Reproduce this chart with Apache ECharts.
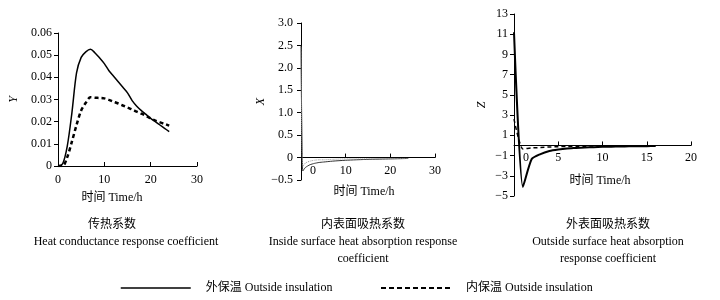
<!DOCTYPE html>
<html>
<head>
<meta charset="utf-8">
<script src="https://cdn.jsdelivr.net/npm/echarts@6/dist/echarts.min.js"></script>
<style>
  html, body { margin: 0; padding: 0; background: #fff; }
  #main { width: 720px; height: 300px; }
</style>
</head>
<body>
<div id="main"></div>
<script>
// 传热系数 Y
var hoursY = [0, 1, 2, 3, 4, 5, 6, 7, 8, 9, 10, 11, 12, 13, 14, 15, 16, 17, 18, 19, 20, 21, 22, 23, 24];
var yOutside = [0, 0.001, 0.009, 0.024, 0.042, 0.049, 0.0515, 0.0527, 0.051, 0.0487, 0.0462, 0.043, 0.0405, 0.038, 0.0355, 0.033, 0.0295, 0.027, 0.025, 0.0233, 0.0215, 0.02, 0.0185, 0.017, 0.0155];
var yInside = [0, 0, 0.004, 0.011, 0.0185, 0.025, 0.0285, 0.031, 0.0308, 0.0307, 0.0305, 0.0298, 0.029, 0.0282, 0.0273, 0.0264, 0.0255, 0.0245, 0.0236, 0.0226, 0.0215, 0.0205, 0.0197, 0.019, 0.0182];

// 内表面吸热系数 X
var hoursX = [0, 0.4, 1, 2, 3, 4, 5, 7, 10, 15, 20, 24];
var xOutside = [2.5, -0.3, -0.22, -0.16, -0.13, -0.11, -0.1, -0.08, -0.06, -0.04, -0.03, -0.02];
var xInside = [2.45, -0.2, -0.12, -0.08, -0.06, -0.05, -0.05, -0.04, -0.03, -0.03, -0.02, -0.02];

// 外表面吸热系数 Z
var hoursZ = [0, 1, 2, 3, 4, 5, 6, 7, 8, 9, 10, 11, 12, 13, 14, 15, 16];
var zOutside = [11.2, -4.1, -1.35, -0.85, -0.55, -0.4, -0.3, -0.25, -0.2, -0.17, -0.14, -0.12, -0.1, -0.09, -0.08, -0.07, -0.06];
var zInside = [2.6, -0.35, -0.25, -0.2, -0.15, -0.12, -0.1, -0.08, -0.07, -0.06, -0.05, -0.04, -0.04, -0.03, -0.03, -0.03, -0.02];
var zTicks = [-5, -3, -1, 1, 3, 5, 7, 9, 11, 13];

var nameOut = '外保温 Outside insulation';
var nameIn = '内保温 Outside insulation';

var FONT = '"Liberation Serif", "Times New Roman", "Noto Sans CJK SC", serif';

function pairs(xs, ys) {
    var out = [];
    for (var i = 0; i < xs.length; i++) out.push([xs[i], ys[i]]);
    return out;
}
function minus(v) {
    return v < 0 ? '\u2212' + (-v) : '' + v;
}

var axLine = { onZero: false, lineStyle: { color: '#000', width: 1 } };

// offset moves the x axis up to the y=0 line of its grid
function xAx(grid, max, interval, margin, shiftZero, offset) {
    return {
        type: 'value', gridIndex: grid, min: 0, max: max, interval: interval,
        offset: offset,
        axisLine: axLine,
        axisTick: { inside: true, length: 4, lineStyle: { color: '#000' } },
        splitLine: { show: false },
        axisLabel: {
            color: '#000', fontFamily: FONT, fontSize: 12, margin: margin,
            formatter: function (v) {
                if (shiftZero && v === 0) return '{s|0}';
                return '' + v;
            },
            rich: { s: { padding: [0, 0, 0, 24], fontFamily: FONT, fontSize: 12, color: '#000' } }
        }
    };
}

function caption(text, x, y) {
    return {
        type: 'text',
        style: { text: text, x: x, y: y, textAlign: 'center', textVerticalAlign: 'middle',
                 font: '12px ' + FONT, fill: '#000' }
    };
}

var option = {
    animation: false,
    backgroundColor: '#fff',
    grid: [
        { left: 58, top: 33, width: 139, height: 133 },
        { left: 301, top: 23, width: 134, height: 157 },
        { left: 514, top: 14, width: 177, height: 182 }
    ],
    xAxis: [
        xAx(0, 30, 10, 8, false, 0),
        xAx(1, 30, 10, 7, true, -157 / 7),
        xAx(2, 20, 5, 6, true, -182 * 5 / 18)
    ],
    yAxis: [
        {
            type: 'value', gridIndex: 0, min: 0, max: 0.06, interval: 0.01,
            name: 'Y', nameLocation: 'middle', nameGap: 38, nameRotate: 90,
            nameTextStyle: { color: '#000', fontFamily: FONT, fontSize: 12, fontStyle: 'italic' },
            axisLine: axLine, axisTick: { length: 4, lineStyle: { color: '#000' } },
            splitLine: { show: false },
            axisLabel: { color: '#000', fontFamily: FONT, fontSize: 12, margin: 6,
                formatter: function (v) { return v === 0 ? '0' : v.toFixed(2); } }
        },
        {
            type: 'value', gridIndex: 1, min: -0.5, max: 3, interval: 0.5,
            name: 'X', nameLocation: 'middle', nameGap: 34, nameRotate: 90,
            nameTextStyle: { color: '#000', fontFamily: FONT, fontSize: 12, fontStyle: 'italic' },
            axisLine: axLine, axisTick: { length: 4, lineStyle: { color: '#000' } },
            splitLine: { show: false },
            axisLabel: { color: '#000', fontFamily: FONT, fontSize: 12, margin: 8,
                formatter: function (v) {
                    if (v === 0) return '0';
                    return v < 0 ? '\u2212' + (-v).toFixed(1) : v.toFixed(1);
                } }
        },
        {
            type: 'value', gridIndex: 2, min: -5, max: 13,
            name: 'Z', nameLocation: 'middle', nameGap: 26, nameRotate: 90,
            nameTextStyle: { color: '#000', fontFamily: FONT, fontSize: 12, fontStyle: 'italic' },
            axisLine: axLine,
            axisTick: { length: 4, lineStyle: { color: '#000' }, customValues: zTicks },
            splitLine: { show: false },
            axisLabel: { color: '#000', fontFamily: FONT, fontSize: 12, margin: 6,
                customValues: zTicks, formatter: minus }
        }
    ],
    legend: [
        {
            left: 120, top: 282, padding: 0, itemWidth: 70, itemHeight: 14, itemGap: 0,
            data: [nameOut],
            itemStyle: { opacity: 0 },
            lineStyle: { color: '#000', width: 1.5 },
            textStyle: { color: '#000', fontFamily: FONT, fontSize: 12, padding: [0, 0, 0, 10] },
            selectedMode: false
        },
        {
            left: 380, top: 282, padding: 0, itemWidth: 70, itemHeight: 14, itemGap: 0,
            data: [nameIn],
            itemStyle: { opacity: 0 },
            lineStyle: { color: '#000', type: [5, 3], width: 2 },
            textStyle: { color: '#000', fontFamily: FONT, fontSize: 12, padding: [0, 0, 0, 10] },
            selectedMode: false
        }
    ],
    graphic: [
        caption('时间 Time/h', 112, 198),
        caption('传热系数', 112, 225),
        caption('Heat conductance response coefficient', 126, 242),
        caption('时间 Time/h', 364, 192),
        caption('内表面吸热系数', 363, 225),
        caption('Inside surface heat absorption response', 363, 242),
        caption('coefficient', 363, 259),
        caption('时间 Time/h', 600, 181),
        caption('外表面吸热系数', 608, 225),
        caption('Outside surface heat absorption', 608, 242),
        caption('response coefficient', 608, 259)
    ],
    series: [
        {
            name: nameOut, type: 'line', xAxisIndex: 0, yAxisIndex: 0,
            data: pairs(hoursY, yOutside), smooth: 0.3, symbol: 'none',
            itemStyle: { color: '#000' },
            lineStyle: { color: '#000', width: 1.5 }
        },
        {
            name: nameIn, type: 'line', xAxisIndex: 0, yAxisIndex: 0,
            data: pairs(hoursY, yInside), smooth: 0.3, symbol: 'none',
            itemStyle: { color: '#000' },
            lineStyle: { color: '#000', width: 2.5, type: [4, 3] }
        },
        {
            name: nameOut, type: 'line', xAxisIndex: 1, yAxisIndex: 1,
            data: pairs(hoursX, xOutside), smooth: 0.2, symbol: 'none',
            itemStyle: { color: '#000' },
            lineStyle: { color: '#333', width: 1 }
        },
        {
            name: nameIn, type: 'line', xAxisIndex: 1, yAxisIndex: 1,
            data: pairs(hoursX, xInside), smooth: 0.2, symbol: 'none',
            itemStyle: { color: '#000' },
            lineStyle: { color: '#999', width: 1, type: 'dotted' }
        },
        {
            name: nameOut, type: 'line', xAxisIndex: 2, yAxisIndex: 2,
            data: pairs(hoursZ, zOutside), smooth: 0.2, symbol: 'none',
            itemStyle: { color: '#000' },
            lineStyle: { color: '#000', width: 2 }
        },
        {
            name: nameIn, type: 'line', xAxisIndex: 2, yAxisIndex: 2,
            data: pairs(hoursZ, zInside), smooth: 0.2, symbol: 'none',
            itemStyle: { color: '#000' },
            lineStyle: { color: '#000', width: 1.5, type: [4, 3] }
        }
    ]
};

var myChart = echarts.init(document.getElementById('main'));
myChart.setOption(option);
</script>
</body>
</html>
